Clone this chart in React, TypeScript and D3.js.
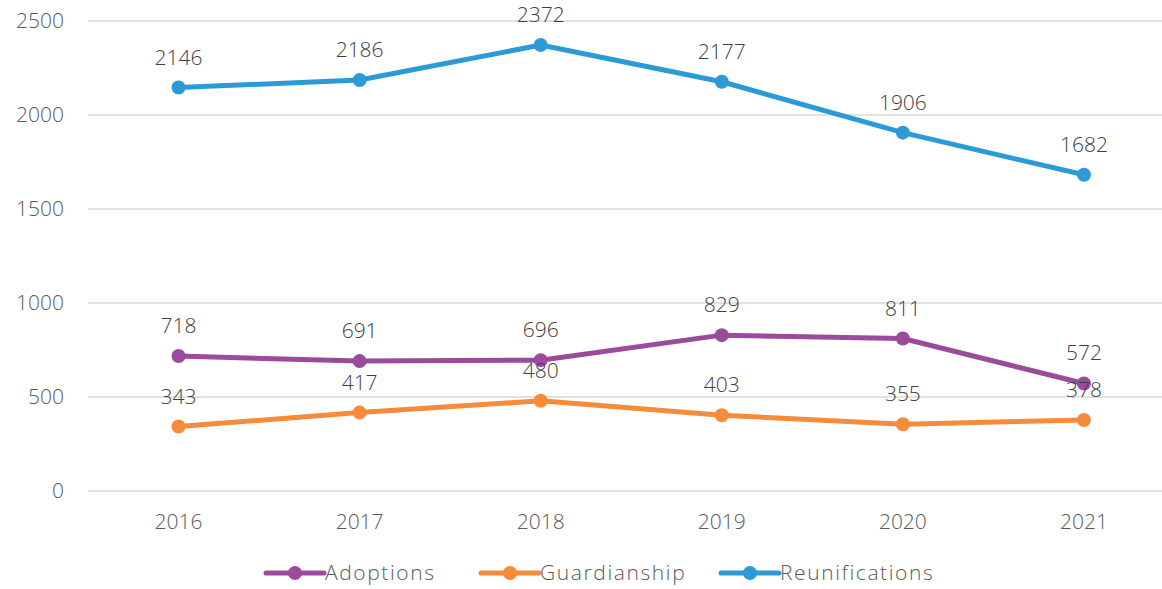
import * as d3 from "d3";
import { useEffect, useRef } from "react";

const years = ["2016", "2017", "2018", "2019", "2020", "2021"];
const adoptions = [718, 691, 696, 829, 811, 572];
const guardianship = [343, 417, 480, 403, 355, 378];
const reunifications = [2146, 2186, 2372, 2177, 1906, 1682];
const yTicks = [0, 500, 1000, 1500, 2000, 2500];

const series = [
  { name: "Adoptions", values: adoptions, color: "#9B4A9C" },
  { name: "Guardianship", values: guardianship, color: "#F68B3A" },
  { name: "Reunifications", values: reunifications, color: "#2C9AD6" },
];

const W = 1162;
const H = 589;
const FONT = "'Open Sans', Lato, sans-serif";
const TEXT = "#595959";

const App = () => {
  const ref = useRef<SVGSVGElement | null>(null);

  useEffect(() => {
    if (!ref.current) return;
    const svg = d3.select(ref.current);
    svg.selectAll("*").remove();

    const x = d3.scaleBand().domain(years).range([88, 1174.5]);
    const y = d3.scaleLinear().domain([0, 2500]).range([491, 21]);
    const cx = (yr: string) => x(yr)! + x.bandwidth() / 2;

    const txt = (sel: d3.Selection<any, any, any, any>, fill = TEXT) =>
      sel
        .style("font-family", FONT)
        .style("font-size", "21px")
        .style("font-weight", 300)
        .style("fill", fill);

    // grid
    svg
      .append("g")
      .selectAll("line")
      .data(yTicks)
      .join("line")
      .attr("x1", 88)
      .attr("x2", W)
      .attr("y1", (d) => y(d))
      .attr("y2", (d) => y(d))
      .attr("stroke", "#D9D9D9")
      .attr("stroke-width", 1.5);

    // y labels
    svg
      .append("g")
      .selectAll("text")
      .data(yTicks)
      .join("text")
      .attr("x", 64)
      .attr("y", (d) => y(d))
      .attr("dy", "0.35em")
      .attr("text-anchor", "end")
      .call(txt)
      .text((d) => d);

    // x labels
    svg
      .append("g")
      .selectAll("text")
      .data(years)
      .join("text")
      .attr("x", (d) => cx(d))
      .attr("y", 529)
      .attr("text-anchor", "middle")
      .call(txt)
      .text((d) => d);

    const line = d3
      .line<number>()
      .x((_, i) => cx(years[i]))
      .y((d) => y(d));

    series.forEach((s) => {
      const g = svg.append("g");
      g.append("path")
        .attr("d", line(s.values))
        .attr("fill", "none")
        .attr("stroke", s.color)
        .attr("stroke-width", 5)
        .attr("stroke-linejoin", "round");
      g.selectAll("circle")
        .data(s.values)
        .join("circle")
        .attr("cx", (_, i) => cx(years[i]))
        .attr("cy", (d) => y(d))
        .attr("r", 7)
        .attr("fill", s.color);
    });

    // data labels
    series.forEach((s) => {
      svg
        .append("g")
        .selectAll("text")
        .data(s.values)
        .join("text")
        .attr("x", (_, i) => cx(years[i]))
        .attr("y", (d) => y(d) - 23)
        .attr("text-anchor", "middle")
        .call(txt, "#404040")
        .text((d) => d);
    });

    // legend
    const legendX = [266, 481, 721];
    const legend = svg.append("g");
    series.forEach((s, i) => {
      const lg = legend.append("g").attr("transform", `translate(${legendX[i]},573)`);
      lg.append("line")
        .attr("x1", 0)
        .attr("x2", 58)
        .attr("stroke", s.color)
        .attr("stroke-width", 5)
        .attr("stroke-linecap", "round");
      lg.append("circle").attr("cx", 29).attr("r", 7).attr("fill", s.color);
      lg.append("text")
        .attr("x", 59)
        .attr("dy", "0.35em")
        .call(txt)
        .style("letter-spacing", "1.6px")
        .text(s.name);
    });
  }, []);

  return <svg ref={ref} width={W} height={H} style={{ position: "absolute", left: 0, top: 0 }} />;
};

export default App;
